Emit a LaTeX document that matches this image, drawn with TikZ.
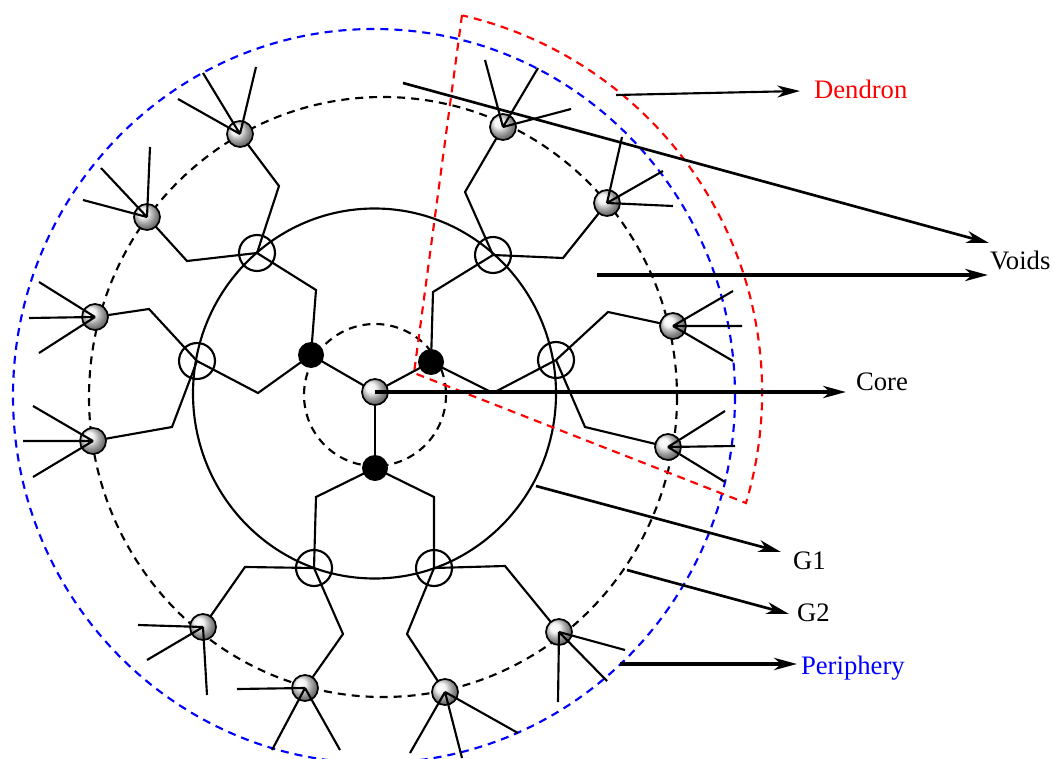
\documentclass[tikz,border=0pt]{standalone}
\usepackage{fontspec}
\setmainfont{Liberation Serif}
\usetikzlibrary{arrows.meta}

\begin{document}
\begin{tikzpicture}[x=0.75pt,y=-0.75pt,line width=1.6pt,
    shell/.style={dash pattern=on 6pt off 4.5pt},
    gball/.style={circle,draw,line width=1.3pt,inner sep=0pt,minimum size=19.5pt,ball color=gray!12},
    gzero/.style={circle,fill=black,inner sep=0pt,minimum size=19.5pt},
    gone/.style={circle,draw,inner sep=0pt,minimum size=27pt},
    lbl/.style={anchor=base west,inner sep=0pt,font=\fontsize{20}{24}\selectfont},
    pointer/.style={-{Stealth[length=17pt,width=9pt,inset=5pt]}}]
  \useasboundingbox (0,0) rectangle (1055,759);
  % shells
  \draw[shell] (375,395) circle (71);
  \draw (374.5,393.5) ellipse (181.5 and 185);
  \draw[shell] (383,397) ellipse (294 and 300);
  \draw[shell,blue] (374,396) ellipse (361 and 367);
  \draw[shell,red] (462,15) -- (414,373) -- (746,503)
    arc[start angle=16.6,end angle=-76.9,radius=387];
  % core and generation 0
  \coordinate (c) at (375,392);
  \coordinate (b1) at (311,355);
  \coordinate (b2) at (431,362);
  \coordinate (b3) at (375,468);
  % generation 1
  \coordinate (j1) at (257,253);
  \coordinate (j2) at (197,361);
  \coordinate (j3) at (314,568);
  \coordinate (j4) at (434,568);
  \coordinate (j5) at (493,255);
  \coordinate (j6) at (556,360);
  \coordinate (a1) at (316,290);
  \coordinate (a2) at (258,393);
  \coordinate (a3) at (316,497);
  \coordinate (a4) at (434,497);
  \coordinate (a5) at (433,292);
  \coordinate (a6) at (493,393);
  % generation 2
  \coordinate (e1) at (240,134);
  \coordinate (e2) at (147,217);
  \coordinate (e3) at (95,317);
  \coordinate (e4) at (93,441);
  \coordinate (e5) at (203,627);
  \coordinate (e6) at (305,688);
  \coordinate (e7) at (445,692);
  \coordinate (e8) at (559,632);
  \coordinate (e9) at (503,127);
  \coordinate (e10) at (607,203);
  \coordinate (e11) at (673,326);
  \coordinate (e12) at (668,447);
  \coordinate (k1) at (279,186);
  \coordinate (k2) at (187,261);
  \coordinate (k3) at (149,309);
  \coordinate (k4) at (172,427);
  \coordinate (k5) at (245,567);
  \coordinate (k6) at (343,634);
  \coordinate (k7) at (407,634);
  \coordinate (k8) at (505,566);
  \coordinate (k9) at (465,192);
  \coordinate (k10) at (563,258);
  \coordinate (k11) at (608,312);
  \coordinate (k12) at (585,427);

  \foreach \b in {b1,b2,b3}
    \draw (c) -- (\b);
  \foreach \b/\a/\j in {b1/a1/j1, b1/a2/j2, b3/a3/j3, b3/a4/j4, b2/a5/j5, b2/a6/j6}
    \draw (\b) -- (\a) -- (\j);
  \foreach \j/\k/\e in {j1/k1/e1, j1/k2/e2, j2/k3/e3, j2/k4/e4, j3/k5/e5, j3/k6/e6,
                        j4/k7/e7, j4/k8/e8, j5/k9/e9, j5/k10/e10, j6/k11/e11, j6/k12/e12}
    \draw (\j) -- (\k) -- (\e);

  \node[gball] (C) at (c) {};
  \foreach \b in {b1,b2,b3}
    \node[gzero] (G0\b) at (\b) {};
  \foreach \j in {j1,j2,j3,j4,j5,j6}
    \node[gone] (G1\j) at (\j) {};
  \foreach \e in {e1,e2,e3,e4,e5,e6,e7,e8,e9,e10,e11,e12}
    \node[gball] (G2\e) at (\e) {};

  % periphery groups
  \foreach \e/\ax/\ay/\bx/\by/\cx/\cy in {e1/203/73/256/67/178/99, e2/150/147/101/168/83/200,
      e3/39/282/29/318/39/353, e4/33/406/23/441/33/477, e5/138/625/147/660/207/695,
      e6/237/689/272/750/340/750, e7/410/753/462/758/518/733, e8/625/650/607/681/558/702,
      e9/485/60/538/68/571/109, e10/622/137/663/171/673/206, e11/733/291/742/326/733/361,
      e12/725/411/735/446/725/482}{
    \coordinate (\e t1) at (\ax,\ay);
    \coordinate (\e t2) at (\bx,\by);
    \coordinate (\e t3) at (\cx,\cy);
    \draw (\e) -- (\e t1) (\e) -- (\e t2) (\e) -- (\e t3);
  }

  % labels
  \node[lbl,red] (den) at (813,99) {Dendron};
  \node[lbl] (voids) at (989,269) {Voids};
  \node[lbl] (core) at (855,390) {Core};
  \node[lbl] (gen1) at (792,569) {G1};
  \node[lbl] (gen2) at (796,621) {G2};
  \node[lbl,blue] (peri) at (800,674) {Periphery};

  \coordinate (ds) at (616,95);
  \coordinate (dt) at (800,91);
  \coordinate (vs1) at (403,83);
  \coordinate (vt1) at (989,243);
  \coordinate (vs2) at (597,275);
  \coordinate (vt2) at (988,275);
  \coordinate (ct) at (846,392);
  \coordinate (g1s) at (536,486);
  \coordinate (g1t) at (781,552);
  \coordinate (g2s) at (627,570);
  \coordinate (g2t) at (789,614);
  \coordinate (ps) at (620,664);
  \coordinate (pt) at (797,664);
  \draw[pointer] (ds) -- (dt);
  \draw[pointer,line width=2pt] (vs1) -- (vt1);
  \draw[pointer,line width=3pt] (vs2) -- (vt2);
  \draw[pointer,line width=3pt] (c) -- (ct);
  \draw[pointer,line width=2pt] (g1s) -- (g1t);
  \draw[pointer,line width=2pt] (g2s) -- (g2t);
  \draw[pointer,line width=3pt] (ps) -- (pt);
\end{tikzpicture}
\end{document}
